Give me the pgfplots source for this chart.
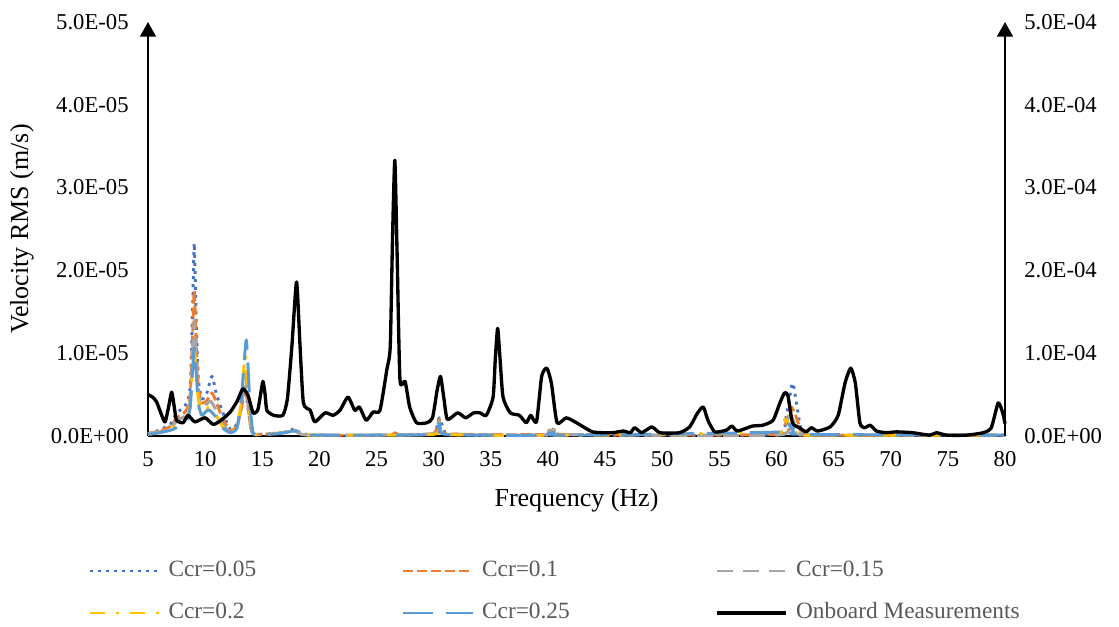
\documentclass[border=0pt]{standalone}
\usepackage{fontspec}
\setmainfont{Liberation Serif}
\usepackage{pgfplots}
\pgfplotsset{compat=1.18}
\usetikzlibrary{arrows.meta}
\definecolor{cA}{HTML}{4472C4}
\definecolor{cB}{HTML}{ED7D31}
\definecolor{cC}{HTML}{A5A5A5}
\definecolor{cD}{HTML}{FFC000}
\definecolor{cE}{HTML}{5B9BD5}
\definecolor{legtext}{HTML}{595959}
\begin{document}
\begin{tikzpicture}
\pgfplotsset{
  common/.style={
    width=642.75pt, height=310.5pt, scale only axis,
    xmin=5, xmax=80, ymin=0, ymax=5,
    clip=false,
    major tick length=0pt,
    tick style={draw=none},
    ytick={0,1,2,3,4,5},
    tick label style={font=\fontsize{17}{17}\selectfont},
  }
}
\begin{axis}[common, name=ax,
  axis x line=bottom, axis y line=left,
  x axis line style={-, line width=1.2pt},
  y axis line style={-{Triangle[width=12pt,length=11pt]}, line width=1.2pt},
  xtick={5,10,...,80},
  xticklabels={5,10,15,20,25,30,35,40,45,50,55,60,65,70,75,80},
  xticklabel style={yshift=-8pt},
  yticklabels={0.0E+00,1.0E-05,2.0E-05,3.0E-05,4.0E-05,5.0E-05},
  yticklabel style={xshift=-11pt},
  xlabel={Frequency (Hz)},
  ylabel={Velocity RMS (m/s)},
  xlabel style={font=\fontsize{19.5}{19.5}\selectfont, at={(axis description cs:0.5,-0.1546)}, anchor=center},
  ylabel style={font=\fontsize{19.5}{19.5}\selectfont, at={(axis description cs:-0.147,0.5)}, anchor=center, rotate=0},
  legend columns=3,
  legend style={at={(axis description cs:-0.070,-0.3768)}, anchor=west, draw=none, fill=none, inner sep=0pt,
    font=\fontsize{17.5}{17.5}\selectfont, text=legtext,
    nodes={inner sep=0pt, text height=11pt, text depth=3pt},
    row sep=17.5pt,
    /tikz/every odd column/.append style={column sep=6pt}},
  legend image code/.code={\draw[#1] (0pt,0pt) -- (52pt,0pt);},
  every axis plot/.append style={smooth, tension=0.35, line join=round},
]
\addplot[cA, line width=2.2pt, dash pattern=on 2.2pt off 3.8pt] coordinates {
(5,0.03) (6,0.07) (7,0.15) (7.5,0.28) (8,0.33) (8.4,0.4) (8.7,0.6) (8.9,1.5) (9.05,2.33) (9.2,1.5) (9.4,0.7) (9.7,0.45) (10.1,0.5) (10.6,0.72) (11.0,0.5) (11.5,0.3) (12.2,0.08) (12.8,0.15) (13.2,0.35) (13.5,0.55) (13.8,0.3) (14.1,0.05) (15,0.02) (16.5,0.03) (17.3,0.06) (17.9,0.09) (18.4,0.03) (20,0.01) (26,0.01) (26.6,0.03) (27.2,0.01) (30,0.03) (30.5,0.22) (31,0.04) (32,0.01) (40,0.02) (40.5,0.12) (41,0.02) (50,0.01) (60,0.02) (60.8,0.2) (61.4,0.64) (61.8,0.35) (62.2,0.05) (63,0.01) (70,0.01) (80,0.01)};
\addlegendentry{\makebox[175pt][l]{Ccr=0.05}}
\addplot[cB, line width=2.2pt, dash pattern=on 7.5pt off 3pt] coordinates {
(5,0.03) (6,0.06) (7,0.12) (7.5,0.22) (8,0.26) (8.4,0.32) (8.7,0.5) (8.9,1.2) (9.05,1.76) (9.2,1.2) (9.4,0.6) (9.7,0.4) (10.1,0.42) (10.6,0.52) (11.0,0.4) (11.5,0.22) (12.2,0.06) (12.8,0.13) (13.2,0.35) (13.5,0.6) (13.8,0.3) (14.1,0.04) (15,0.02) (17.3,0.05) (17.9,0.07) (18.4,0.02) (20,0.01) (26,0.01) (26.6,0.04) (27.2,0.01) (30,0.03) (30.5,0.2) (31,0.03) (40,0.02) (40.5,0.1) (41,0.02) (60,0.02) (60.8,0.15) (61.3,0.35) (61.8,0.2) (62.2,0.04) (63,0.01) (80,0.01)};
\addlegendentry{\makebox[175pt][l]{Ccr=0.1}}
\addplot[cC, line width=2.2pt, dash pattern=on 12pt off 7.5pt] coordinates {
(5,0.03) (6,0.05) (7,0.1) (7.5,0.18) (8,0.22) (8.4,0.27) (8.7,0.45) (8.9,1.0) (9.05,1.40) (9.2,0.95) (9.4,0.5) (9.7,0.33) (10.1,0.38) (10.5,0.42) (11.0,0.3) (11.5,0.15) (12.2,0.05) (12.8,0.12) (13.2,0.4) (13.5,0.75) (13.8,0.35) (14.1,0.04) (15,0.02) (17.3,0.05) (17.9,0.07) (18.4,0.02) (20,0.01) (30,0.03) (30.5,0.18) (31,0.03) (40,0.01) (40.5,0.08) (41,0.02) (60,0.01) (60.8,0.15) (61.2,0.25) (61.7,0.12) (62.2,0.03) (63,0.01) (80,0.01)};
\addlegendentry{\makebox[175pt][l]{Ccr=0.15}}
\addplot[cD, line width=2.2pt, dash pattern=on 11.25pt off 8.25pt on 2.25pt off 8.25pt] coordinates {
(5,0.02) (6,0.04) (7,0.08) (7.5,0.14) (8,0.18) (8.4,0.22) (8.7,0.4) (8.9,0.8) (9.05,1.08) (9.2,0.8) (9.4,0.45) (9.7,0.3) (10.1,0.32) (10.4,0.35) (11.0,0.25) (11.5,0.12) (12.2,0.04) (12.8,0.12) (13.2,0.45) (13.5,0.98) (13.8,0.45) (14.1,0.04) (15,0.02) (17.3,0.04) (17.9,0.06) (18.4,0.02) (20,0.01) (30,0.02) (30.5,0.15) (31,0.02) (40,0.01) (40.5,0.06) (41,0.01) (60.3,0.05) (60.7,0.2) (61.1,0.15) (61.6,0.05) (62.2,0.02) (63,0.01) (80,0.01)};
\addlegendentry{\makebox[175pt][l]{Ccr=0.2}}
\addplot[cE, line width=2.2pt, dash pattern=on 22.5pt off 9.75pt] coordinates {
(5,0.02) (6,0.04) (7,0.07) (7.5,0.1) (8,0.13) (8.4,0.18) (8.7,0.35) (8.9,0.8) (9.05,1.06) (9.2,0.8) (9.4,0.4) (9.7,0.25) (10.1,0.3) (10.4,0.31) (11.0,0.22) (11.5,0.1) (12.2,0.04) (12.8,0.1) (13.2,0.5) (13.6,1.16) (13.9,0.45) (14.2,0.04) (15,0.02) (16.5,0.03) (17.3,0.05) (17.9,0.06) (18.4,0.02) (20,0.01) (30,0.02) (30.5,0.15) (31,0.02) (40,0.01) (40.5,0.05) (41,0.01) (60.5,0.05) (61,0.15) (61.5,0.05) (62.2,0.02) (80,0.01)};
\addlegendentry{\makebox[175pt][l]{Ccr=0.25}}
\addlegendimage{black, line width=2.5pt, solid, sharp plot}
\addlegendentry{\makebox[175pt][l]{Onboard Measurements}}
\end{axis}
\begin{axis}[common,
  axis x line=none, axis y line=right,
  y axis line style={-{Triangle[width=12pt,length=11pt]}, line width=1.2pt},
  yticklabels={0.0E+00,1.0E-04,2.0E-04,3.0E-04,4.0E-04,5.0E-04},
  yticklabel style={xshift=11pt},
]
\addplot[black, line width=2.5pt, line join=round, smooth, tension=0.35] coordinates {
(5.0,0.50) (5.4,0.47) (5.76,0.41) (6.2,0.25) (6.5,0.17) (6.8,0.35) (7.07,0.53) (7.3,0.35) (7.5,0.19) (8.07,0.16) (8.5,0.25) (9.1,0.17) (10.0,0.22) (10.7,0.14) (11.4,0.19) (12.2,0.29) (12.8,0.42) (13.3,0.57) (13.75,0.49) (14.2,0.28) (14.6,0.31) (14.85,0.5) (15.06,0.66) (15.25,0.5) (15.4,0.31) (16.0,0.25) (16.8,0.25) (17.2,0.45) (17.6,1.1) (18.0,1.86) (18.3,1.1) (18.6,0.40) (19.2,0.31) (19.6,0.17) (20.5,0.28) (21.2,0.25) (21.8,0.31) (22.5,0.47) (23.1,0.31) (23.5,0.35) (24.1,0.19) (24.7,0.29) (25.3,0.31) (25.9,0.80) (26.2,1.08) (26.4,2.4) (26.6,3.33) (26.8,2.2) (27.05,0.68) (27.5,0.66) (27.9,0.35) (28.5,0.16) (29.4,0.16) (29.9,0.22) (30.3,0.55) (30.6,0.72) (30.9,0.45) (31.2,0.20) (32.1,0.28) (32.8,0.22) (33.5,0.28) (34.05,0.28) (34.6,0.25) (35.2,0.47) (35.4,0.95) (35.6,1.30) (35.8,0.95) (36.07,0.47) (36.7,0.28) (37.5,0.25) (38.1,0.16) (38.5,0.25) (39.0,0.17) (39.45,0.72) (39.9,0.82) (40.3,0.64) (40.8,0.16) (41.6,0.22) (42.5,0.16) (43.1,0.11) (43.9,0.05) (44.8,0.04) (45.7,0.04) (46.6,0.06) (47.2,0.04) (47.6,0.10) (48.2,0.04) (49.1,0.11) (49.8,0.04) (51.5,0.04) (52.4,0.11) (53.1,0.28) (53.6,0.35) (54.0,0.19) (54.6,0.05) (55.6,0.07) (56.1,0.12) (56.6,0.06) (57.9,0.12) (58.8,0.13) (59.7,0.19) (60.3,0.40) (60.7,0.52) (61.0,0.49) (61.4,0.16) (62.0,0.10) (62.6,0.05) (63.05,0.10) (63.6,0.06) (64.7,0.11) (65.4,0.25) (66.0,0.64) (66.5,0.82) (66.9,0.64) (67.3,0.16) (67.7,0.10) (68.2,0.13) (68.75,0.06) (69.6,0.04) (70.5,0.05) (71.9,0.04) (73.4,0.01) (74.0,0.04) (74.9,0.01) (76.6,0.01) (78.1,0.04) (78.8,0.10) (79.4,0.40) (79.8,0.28) (80.0,0.15)};
\end{axis}
\pgfresetboundingbox
\path ([shift={(-111pt,-142.5pt)}]ax.south west) rectangle ([shift={(728.25pt,327pt)}]ax.south west);
\end{tikzpicture}
\end{document}
